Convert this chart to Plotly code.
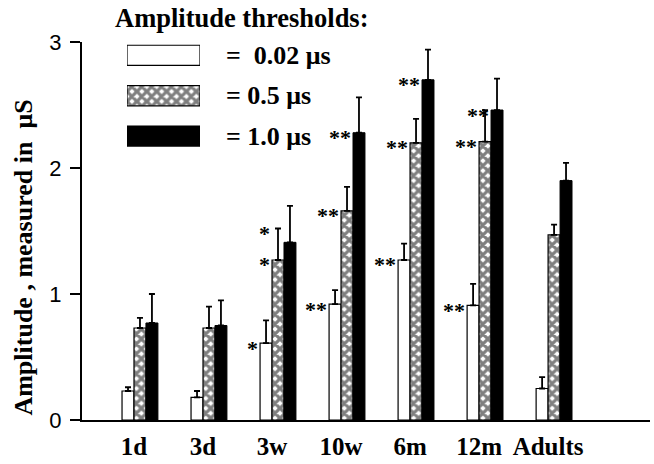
import plotly.graph_objects as go

# ---- data ----
categories = ["1d", "3d", "3w", "10w", "6m", "12m", "Adults"]
series_names = ["=  0.02 μs", "= 0.5 μs", "= 1.0 μs"]
vals_002 = [0.23, 0.18, 0.61, 0.92, 1.27, 0.91, 0.25]
err_002 = [0.03, 0.05, 0.18, 0.11, 0.13, 0.17, 0.09]
vals_05 = [0.73, 0.73, 1.27, 1.66, 2.20, 2.21, 1.47]
err_05 = [0.08, 0.17, 0.25, 0.19, 0.19, 0.25, 0.08]
vals_10 = [0.77, 0.75, 1.41, 2.28, 2.70, 2.46, 1.90]
err_10 = [0.23, 0.20, 0.29, 0.28, 0.24, 0.25, 0.14]
stars_002 = ["", "", "*", "**", "**", "**", ""]
stars_05 = ["", "", "*", "**", "**", "**", ""]
stars_10 = ["", "", "", "**", "**", "**", ""]
stars_05_err = ["", "", "*", "", "", "", ""]
y_ticks = [0, 1, 2, 3]
legend_title = "Amplitude thresholds:"
y_title = "Amplitude , measured in  μS"

# ---- styles ----
SERIF = "Liberation Serif"
SANS = "Liberation Sans"
W, H = 654, 464
ML, MR, MT, MB = 82, 4, 42, 38
PW, PH = W - ML - MR, H - MT - MB
BARGAP = 0.48
BW = (1 - BARGAP) / 3


def px_x(p):
    return (p - ML) / PW


def px_y(p):
    return (H - MB - p) / PH


styles = [
    dict(marker=dict(color="white", line=dict(color="black", width=1.2))),
    dict(marker=dict(color="white", line=dict(color="black", width=1.2),
                     pattern=dict(shape="x", fgcolor="black", bgcolor="white",
                                  size=7, solidity=0.7, fillmode="overlay"))),
    dict(marker=dict(color="black", line=dict(color="black", width=1))),
]

xs = list(range(len(categories)))
all_vals = [vals_002, vals_05, vals_10]
all_errs = [err_002, err_05, err_10]
all_stars = [stars_002, stars_05, stars_10]

fig = go.Figure()
for k in range(3):
    fig.add_trace(go.Bar(
        x=xs, y=all_vals[k], name=series_names[k], showlegend=False,
        error_y=dict(type="data", array=all_errs[k], arrayminus=[0] * len(xs),
                     symmetric=False, color="black", thickness=1.8, width=3),
        **styles[k]))

# legend swatches on a small helper axis
for k in range(3):
    fig.add_trace(go.Bar(
        x=[1], y=[k], base=0, orientation="h", width=0.5, showlegend=False,
        xaxis="x2", yaxis="y2", hoverinfo="skip", **styles[k]))

STAR_FONT = dict(family=SERIF, size=22, color="black", weight="bold")
annotations = []
for k in range(3):
    for i, s in enumerate(all_stars[k]):
        if s:
            annotations.append(dict(
                x=i + (k - 1) * BW - BW / 2, y=all_vals[k][i], xref="x", yref="y",
                text=s, showarrow=False, xanchor="right", yanchor="middle",
                xshift=0, yshift=-5, font=STAR_FONT))
for i, s in enumerate(stars_05_err):
    if s:
        annotations.append(dict(
            x=i - BW / 2, y=vals_05[i] + err_05[i], xref="x", yref="y",
            text=s, showarrow=False, xanchor="right", yanchor="middle",
            yshift=-5, font=STAR_FONT))

for k in range(3):
    annotations.append(dict(
        x=px_x(224), y=k, xref="paper", yref="y2", text=series_names[k],
        showarrow=False, xanchor="left", yanchor="middle",
        font=dict(family=SERIF, size=26, color="black", weight="bold")))

annotations.append(dict(
    x=px_x(113), y=px_y(18), xref="paper", yref="paper", text=legend_title,
    showarrow=False, xanchor="left", yanchor="middle",
    font=dict(family=SERIF, size=26.5, color="black", weight="bold")))

annotations.append(dict(
    x=px_x(24), y=px_y(261), xref="paper", yref="paper", text=y_title,
    textangle=-90, showarrow=False, xanchor="center", yanchor="middle",
    font=dict(family=SERIF, size=26, color="black", weight="bold")))

fig.update_layout(
    width=W, height=H,
    margin=dict(l=ML, r=MR, t=MT, b=MB, pad=0),
    paper_bgcolor="white", plot_bgcolor="white",
    barmode="group", bargap=BARGAP, bargroupgap=0,
    annotations=annotations,
    xaxis=dict(range=[-0.84, 7.39], tickvals=xs, ticktext=categories,
               showline=True, linecolor="black", linewidth=2, ticks="",
               showgrid=False, zeroline=False, ticklabelshift=-6,
               ticklabelstandoff=3,
               tickfont=dict(family=SERIF, size=25, color="black", weight="bold")),
    yaxis=dict(range=[0, 3], tickvals=y_ticks, showline=True, linecolor="black",
               linewidth=2, ticks="outside", ticklen=10, tickwidth=2,
               tickcolor="black", showgrid=False, zeroline=False,
               ticklabelstandoff=4,
               tickfont=dict(family=SANS, size=22, color="black")),
    xaxis2=dict(domain=[px_x(127), px_x(200)], range=[0, 1], anchor="y2",
                visible=False, fixedrange=True),
    yaxis2=dict(domain=[px_y(158.5), 1.0], range=[2.51, -0.33], anchor="x2",
                visible=False, fixedrange=True),
    showlegend=False,
)

fig.write_html("out.html")
